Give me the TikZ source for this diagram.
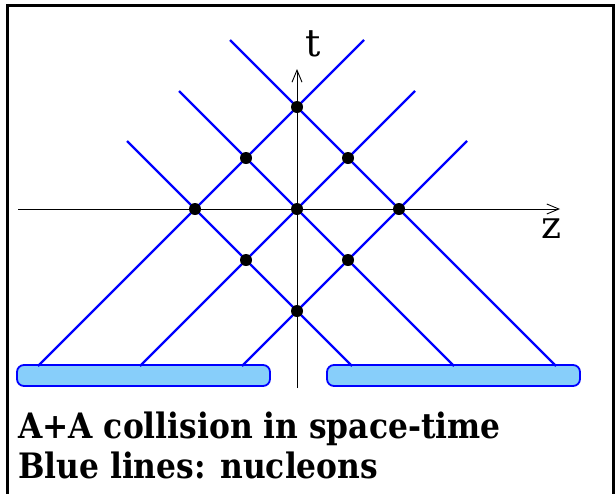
\documentclass[tikz,border=0pt]{standalone}
\usepackage{fontspec}
\setmainfont{DejaVu Serif}
\usetikzlibrary{arrows.meta}
\newcommand{\capsq}[1]{\scalebox{0.895}[1]{#1}}
\begin{document}
\begin{tikzpicture}[x=1pt,y=-1pt,
  nucleon/.style={blue, line width=2.3pt},
  dot/.style={circle, fill=black, inner sep=0pt, minimum size=12pt},
  nucleus/.style={draw=blue, line width=1.8pt, fill={rgb,255:red,135;green,206;blue,250}, rounded corners=7pt},
  axis/.style={line width=0.9pt, -{Straight Barb[length=12pt,width=10pt]}},
  axlabel/.style={font=\fontsize{38}{44}\selectfont, anchor=base, inner sep=0pt},
  caption/.style={font=\fontsize{35}{40}\selectfont\bfseries, anchor=base west, inner sep=0pt}]
\useasboundingbox (0,0) rectangle (615,493);
% frame
\draw[line width=3pt] (7,494) -- (7,5) -- (613.5,5) -- (613.5,494);
% nuclei
\node[nucleus, minimum width=253pt, minimum height=21pt, inner sep=0pt] (nucL) at (143.5,375.5) {};
\node[nucleus, minimum width=253pt, minimum height=21pt, inner sep=0pt] (nucR) at (453.5,375.5) {};
% axes
\coordinate (zs) at (18,209);
\coordinate (ze) at (560,209);
\coordinate (ts) at (297,388);
\coordinate (te) at (297,69);
\draw[axis] (zs) -- (ze);
\draw[axis] (ts) -- (te);
\node[axlabel] (tlab) at (313,56) {t};
\node[axlabel] (zlab) at (552,238) {z};
% nucleon line end points
\coordinate (r1b) at (38,366);  \coordinate (r1t) at (364,40);
\coordinate (r2b) at (140,366); \coordinate (r2t) at (415,91);
\coordinate (r3b) at (242,366); \coordinate (r3t) at (467,141);
\coordinate (l1b) at (556,366); \coordinate (l1t) at (230,40);
\coordinate (l2b) at (454,366); \coordinate (l2t) at (179,91);
\coordinate (l3b) at (352,366); \coordinate (l3t) at (127,141);
\foreach \n in {r1,r2,r3,l1,l2,l3} {\draw[nucleon] (\n b) -- (\n t);}
% collision points
\node[dot] (p1) at (297,107) {};
\node[dot] (p2) at (246,158) {};
\node[dot] (p3) at (348,158) {};
\node[dot] (p4) at (195,209) {};
\node[dot] (p5) at (297,209) {};
\node[dot] (p6) at (399,209) {};
\node[dot] (p7) at (246,260) {};
\node[dot] (p8) at (348,260) {};
\node[dot] (p9) at (297,311) {};
% caption
\node[caption] (cap1) at (18,438) {\capsq{A+A collision in space-time}};
\node[caption] (cap2) at (18,478) {\capsq{Blue lines: nucleons}};
\end{tikzpicture}
\end{document}
